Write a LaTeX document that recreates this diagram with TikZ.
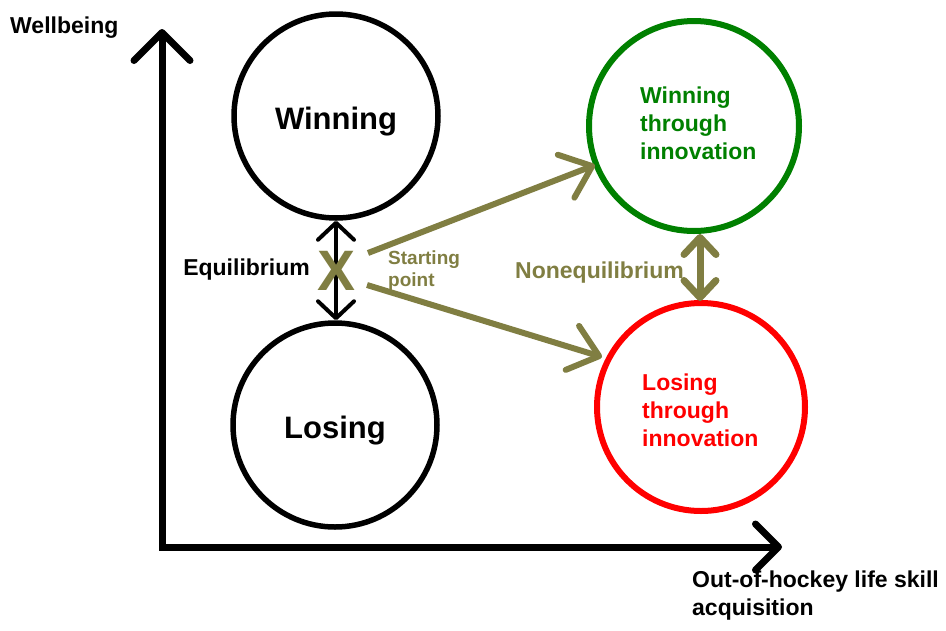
\documentclass[tikz,border=0pt]{standalone}
\usepackage{fontspec}
\setmainfont{Liberation Sans}
\usetikzlibrary{arrows.meta}
\definecolor{olivec}{RGB}{128,126,66}
\definecolor{greenc}{RGB}{0,128,0}
\definecolor{redc}{RGB}{255,0,0}
\begin{document}
\begin{tikzpicture}[x=1pt,y=-1pt,
  ring/.style={circle,draw,inner sep=0pt,minimum size=#1},
  lab/.style={font=\bfseries\fontsize{23}{28}\selectfont,inner sep=0pt},
  big/.style={font=\bfseries\fontsize{31}{36}\selectfont,inner sep=0pt},
  small/.style={font=\bfseries\fontsize{19}{22}\selectfont,inner sep=0pt},
  olivearrow/.style={draw=olivec,line width=6pt,-{Straight Barb[length=28pt,width=46pt,round]}},
]
\useasboundingbox (0,0) rectangle (946,630);

% axes
\coordinate (O) at (162,547);
\coordinate (ytip) at (162,29);
\coordinate (xtip) at (782,547);
\draw[line width=7pt,{Straight Barb[length=28pt,width=56pt,round]}-{Straight Barb[length=23pt,width=46pt,round]}] (ytip) -- (O) -- (xtip);

% circles
\node[ring=204pt,line width=5.5pt] (win) at (336,116) {};
\node[ring=204pt,line width=5.5pt] (lose) at (335,425) {};
\node[ring=210pt,line width=6pt,draw=greenc] (wi) at (694,126) {};
\node[ring=208pt,line width=6pt,draw=redc] (li) at (701,407) {};

% texts
\node[big,anchor=base] (twin) at (336,129) {Winning};
\node[big,anchor=base] (tlose) at (335,438) {Losing};
\node[lab,anchor=base west] (wb) at (10,33) {Wellbeing};
\node[lab,anchor=north west,align=left] (xl) at (692,571) {Out-of-hockey life skill\\acquisition};
\node[lab,anchor=base east] (eq) at (310,275) {Equilibrium};
\node[small,text=olivec,anchor=north west,align=left] (sp) at (388,251) {Starting\\point};
\node[lab,text=olivec,anchor=base west] (neq) at (515,278) {Nonequilibrium};
\node[lab,text=greenc,anchor=north west,align=left] (twi) at (640,87) {Winning\\through\\innovation};
\node[lab,text=redc,anchor=north west,align=left] (tli) at (642,374) {Losing\\through\\innovation};

% equilibrium arrow
\draw[line width=4pt,{Straight Barb[length=17pt,width=36pt,round]}-{Straight Barb[length=17pt,width=36pt,round]}] (win.south) -- (win.south |- lose.north);

% starting point mark (drawn over the arrow)
\node[font=\bfseries\fontsize{57}{57}\selectfont,text=olivec,inner sep=0pt,anchor=base] (X) at (337,290) {X};

% nonequilibrium arrow
\coordinate (n1) at (700,234);
\coordinate (n2) at (700,301);
\draw[draw=olivec,line width=7pt,{Straight Barb[length=17pt,width=32pt,round]}-{Straight Barb[length=17pt,width=32pt,round]}] (n1) -- (n2);

% olive arrows from starting point
\coordinate (s1) at (368,253);
\coordinate (t1) at (595,165);
\coordinate (s2) at (367,285);
\coordinate (t2) at (602,357);
\draw[olivearrow] (s1) -- (t1);
\draw[olivearrow] (s2) -- (t2);
\end{tikzpicture}
\end{document}
